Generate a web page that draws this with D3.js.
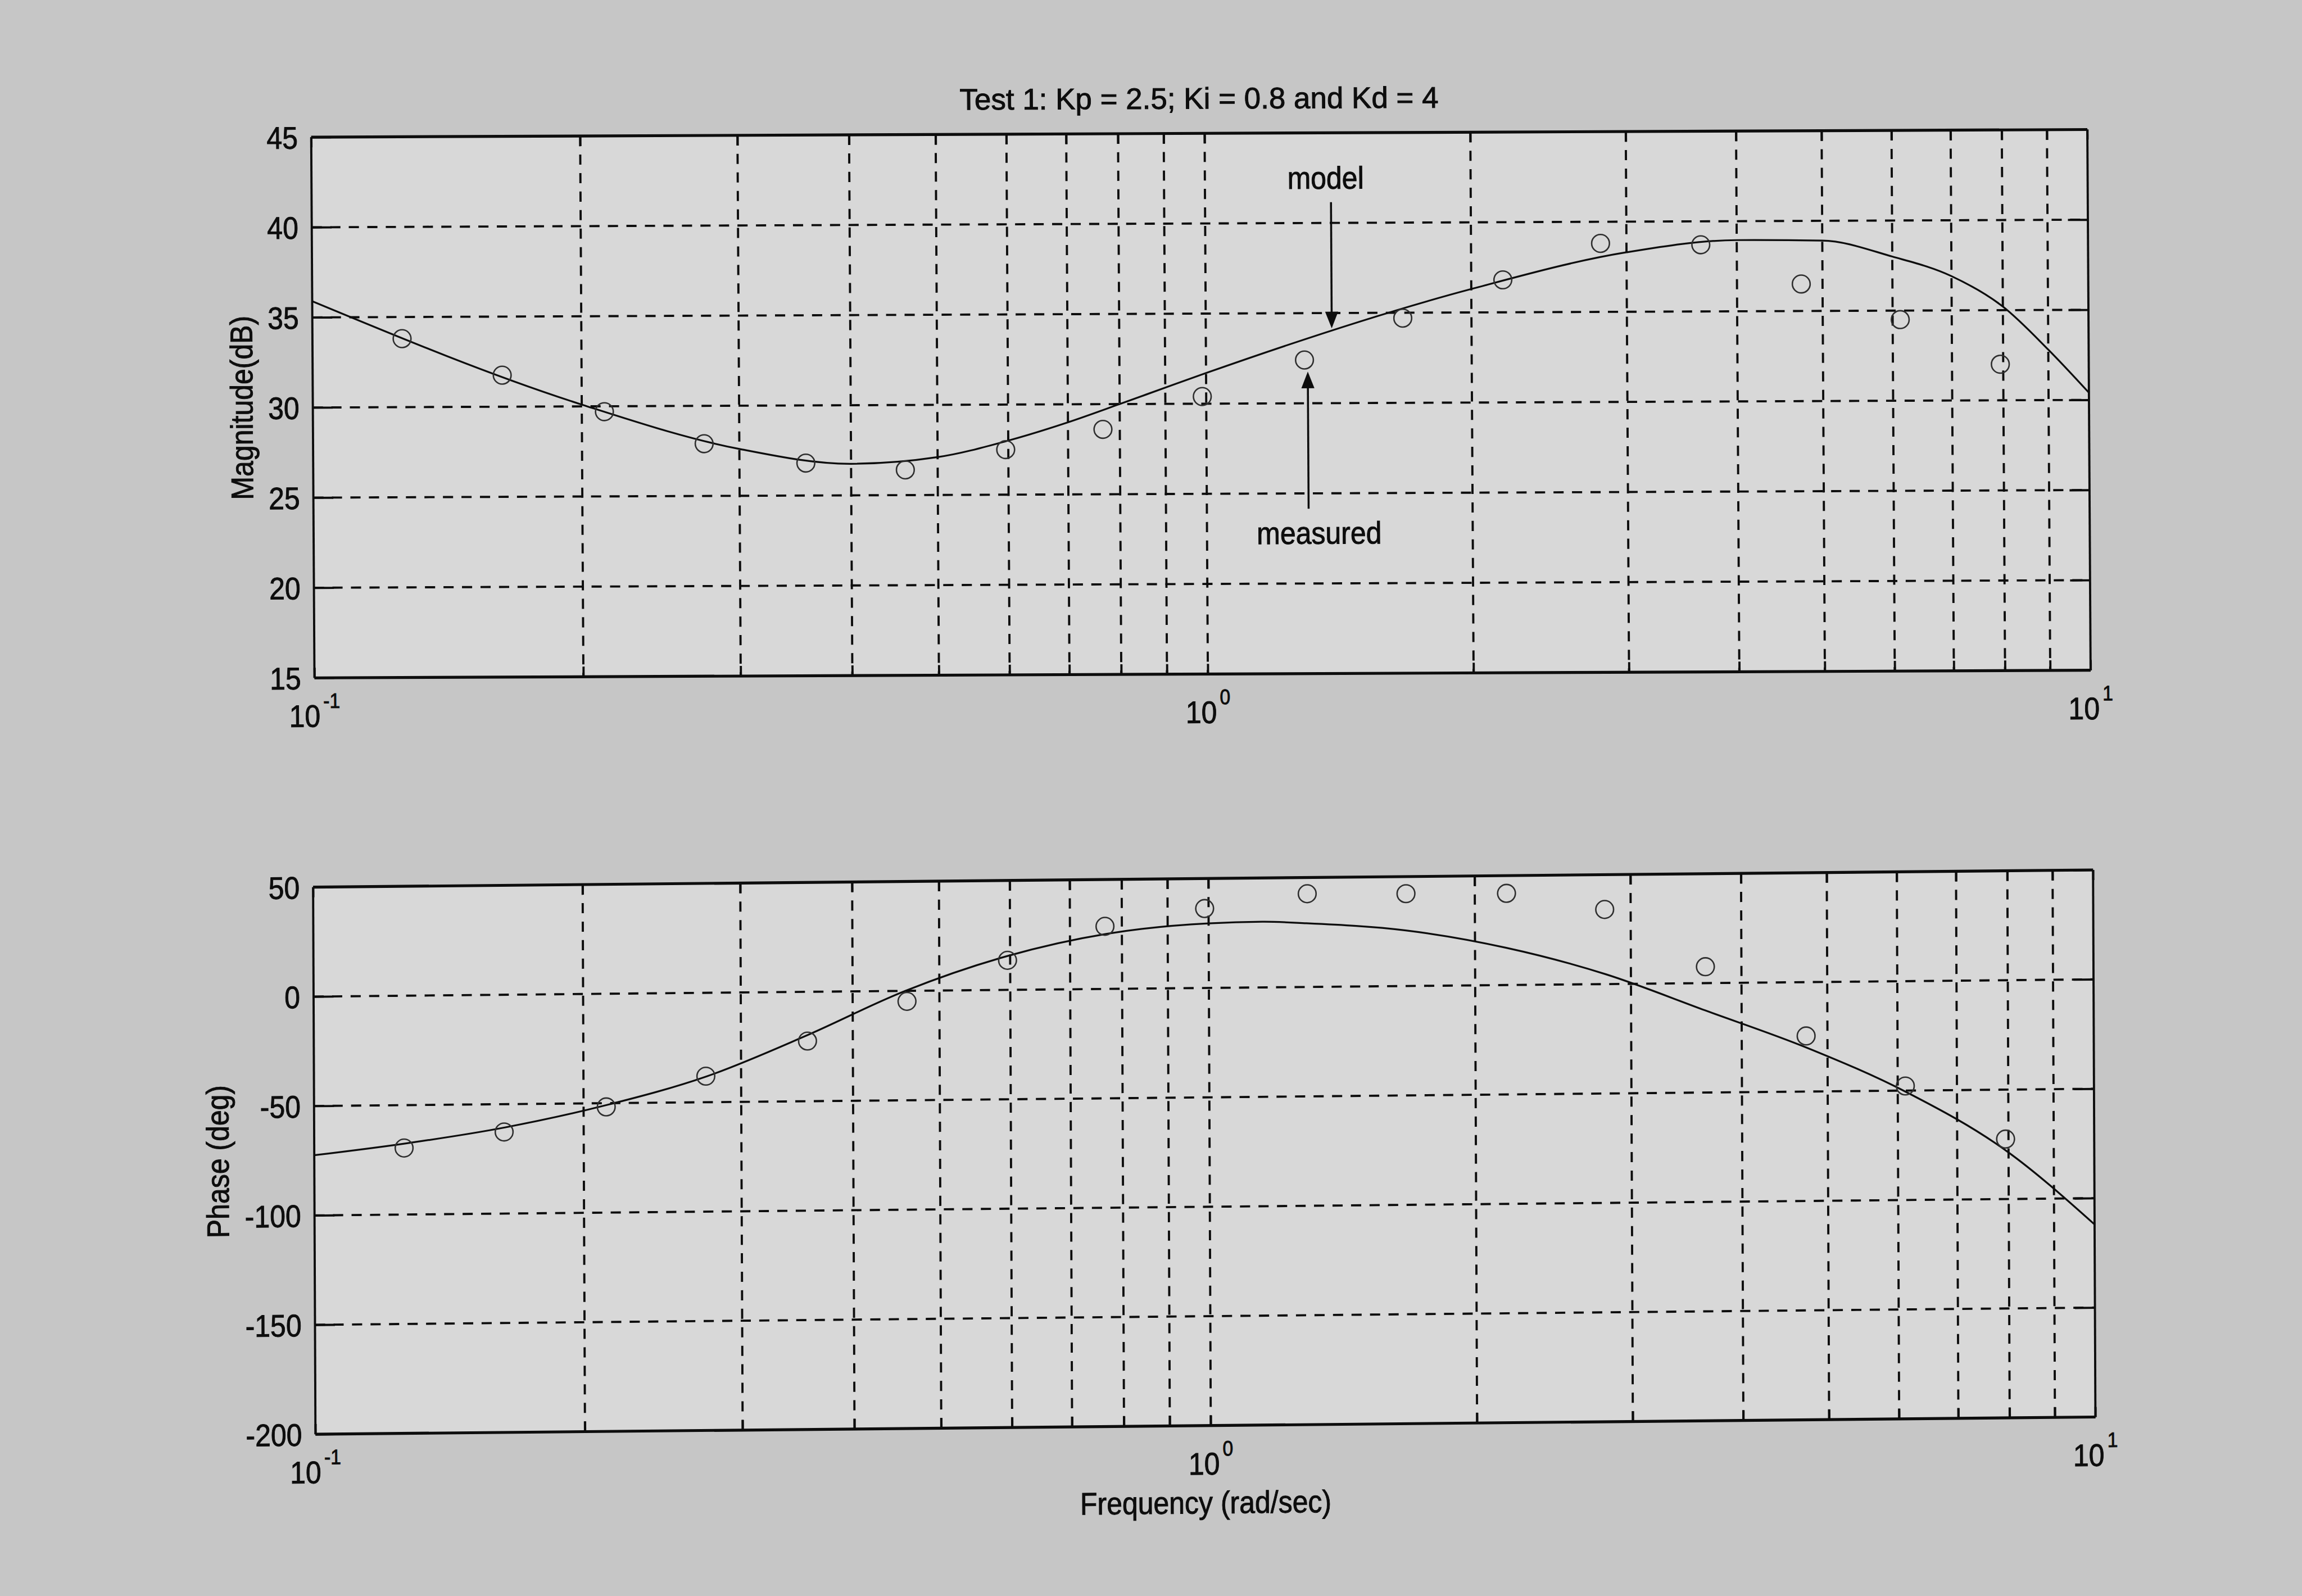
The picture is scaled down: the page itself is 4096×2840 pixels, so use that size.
<!DOCTYPE html>
<html>
<head>
<meta charset="utf-8">
<script src="https://cdn.jsdelivr.net/npm/d3@7"></script>
<style>
html,body{margin:0;padding:0;background:#c5c5c5;overflow:hidden}
</style>
</head>
<body>
<svg id="chart" width="4096" height="2840"></svg>
<script>
// ---------------- data ----------------
const titleText = "Test 1: Kp = 2.5; Ki = 0.8 and Kd = 4";
const magLabel = "Magnitude(dB)";
const phaseLabel = "Phase (deg)";
const freqLabel = "Frequency (rad/sec)";

const freqDomain = [0.1, 1, 10];
const decadeBase = ["10", "10", "10"];
const decadeExp = ["-1", "0", "1"];

const magTicks = [15, 20, 25, 30, 35, 40, 45];
const phaseTicks = [-200, -150, -100, -50, 0, 50];

// measured points (circles)
const measuredFreq = [0.126, 0.163, 0.212, 0.274, 0.356, 0.46, 0.596, 0.766, 0.99, 1.293, 1.672, 2.172, 2.804, 3.642, 4.73, 6.12, 7.94];
const measuredMag = [33.8, 31.75, 29.7, 27.9, 26.8, 26.4, 27.5, 28.6, 30.4, 32.4, 34.7, 36.8, 38.8, 38.7, 36.5, 34.5, 32.0];
const measuredPhase = [-69.6, -62.7, -51.7, -38.1, -22.5, -4.8, 13.5, 28.6, 36.3, 42.6, 42.2, 41.9, 34.1, 7.5, -24.6, -47.9, -72.6];

// model curve – magnitude
const modelMagFreq = [0.1, 0.2, 0.3, 0.4, 0.5, 0.6, 0.7, 0.8, 0.9, 1, 2, 3, 4, 5, 6, 7, 8, 9, 10];
const modelMag = [35.9, 30.1, 27.6, 26.75, 27.1, 28.0, 29.0, 30.0, 30.9, 31.7, 36.3, 38.3, 38.95, 38.9, 38.0, 36.9, 35.2, 32.8, 30.4];
// model curve – phase
const modelPhaseFreq = [0.1, 0.126, 0.163, 0.212, 0.275, 0.355, 0.458, 0.596, 0.77, 1.0, 1.15, 1.29, 1.67, 2.17, 2.81, 3.64, 4.74, 6.13, 7.95, 10];
const modelPhase = [-72.5, -67.6, -60.7, -50.9, -38.1, -20, 0, 15.5, 25.2, 29.5, 30.0, 29.1, 25.4, 17.0, 4.5, -12.5, -30.0, -50.6, -77.9, -112];

// annotations (in data units of the magnitude plot)
const annotationText = ["model", "measured"];
const annotationTextAt = [[1.37, 41.9], [1.34, 22.2]];
const arrowFrom = [[1.389, 41.15], [1.304, 24.15]];
const arrowTo = [[1.389, 34.15], [1.304, 31.76]];

// ---------------- drawing ----------------
const S = 4096 / 6343;
const FONT = "'Liberation Sans', Arial, Helvetica, sans-serif";
const FS = 86;
const SQUEEZE = 0.9;
const INK = "#0d0d0d";

const svg = d3.select("#chart");
svg.append("rect").attr("width", 4096).attr("height", 2840).attr("fill", "#c6c6c6");
const root = svg.append("g").attr("transform", `scale(${S})`);

function styleText(sel, size) {
  sel.attr("font-family", FONT).attr("font-size", size).attr("fill", INK)
    .attr("stroke", INK).attr("stroke-width", 1.5);
  return sel;
}
function squeeze(sel, k) {
  sel.each(function () {
    const len = this.getComputedTextLength();
    if (len > 0) d3.select(this).attr("textLength", len * k).attr("lengthAdjust", "spacingAndGlyphs");
  });
}

function makePanel(o) {
  const g = root.append("g")
    .attr("transform", `matrix(1,${o.skewY},${o.skewX},1,${o.x0},${o.y0})`);
  const x = d3.scaleLog().domain(freqDomain).range([0, o.W * o.mid, o.W]);
  const y = d3.scaleLinear().domain(o.yDomain).range([o.H, 0]);

  g.append("rect").attr("width", o.W).attr("height", o.H).attr("fill", "#d8d8d8");

  const allX = x.ticks();
  const innerX = allX.filter(v => v > 0.1 * 1.0001 && v < 10 * 0.9999);
  const innerY = o.yTicks.filter(v => v > o.yDomain[0] && v < o.yDomain[1]);

  const grid = g.append("g").attr("stroke", INK).attr("stroke-width", 6)
    .attr("stroke-dasharray", "28,23").attr("fill", "none");
  grid.selectAll("line.v").data(innerX).join("line").attr("class", "v")
    .attr("x1", d => x(d)).attr("x2", d => x(d)).attr("y1", 0).attr("y2", o.H);
  grid.selectAll("line.h").data(innerY).join("line").attr("class", "h")
    .attr("x1", 0).attr("x2", o.W).attr("y1", d => y(d)).attr("y2", d => y(d));

  const fmt = d => String(d);
  const axL = g.append("g").call(d3.axisLeft(y).tickValues(o.yTicks).tickSize(-55).tickPadding(37).tickFormat(fmt));
  const axR = g.append("g").attr("transform", `translate(${o.W},0)`)
    .call(d3.axisRight(y).tickValues(o.yTicks).tickSize(-55).tickFormat(""));
  const axB = g.append("g").attr("transform", `translate(0,${o.H})`)
    .call(d3.axisBottom(x).tickValues(allX).tickSize(-28).tickFormat(""));
  const axT = g.append("g").call(d3.axisTop(x).tickValues(allX).tickSize(-28).tickFormat(""));
  [axL, axR, axB, axT].forEach(a => {
    a.select(".domain").remove();
    a.selectAll(".tick line").attr("stroke", INK).attr("stroke-width", 6);
  });
  const yt = axL.selectAll(".tick text").attr("dy", "0.36em");
  styleText(yt, FS);
  squeeze(yt, SQUEEZE);

  // box
  g.append("line").attr("x1", 0).attr("x2", o.W).attr("y1", 0).attr("y2", 0).attr("stroke", INK).attr("stroke-width", 8);
  g.append("line").attr("x1", 0).attr("x2", o.W).attr("y1", o.H).attr("y2", o.H).attr("stroke", INK).attr("stroke-width", 8);
  g.append("line").attr("x1", 0).attr("x2", 0).attr("y1", 0).attr("y2", o.H).attr("stroke", INK).attr("stroke-width", 6);
  g.append("line").attr("x1", o.W).attr("x2", o.W).attr("y1", 0).attr("y2", o.H).attr("stroke", INK).attr("stroke-width", 6);

  // decade labels with superscripts
  const dl = g.append("g");
  const dt = dl.selectAll("text").data(freqDomain).join("text")
    .attr("x", d => x(d)).attr("y", o.H + 135)
    .attr("text-anchor", "middle");
  styleText(dt, FS);
  dt.each(function (d, i) {
    const t = d3.select(this);
    t.append("tspan").text(decadeBase[i]);
    t.append("tspan").attr("font-size", 58).attr("dx", 8).attr("dy", -52).text(decadeExp[i]);
  });
  dt.selectAll("tspan").each(function () {
    const len = this.getComputedTextLength();
    d3.select(this).attr("textLength", len * SQUEEZE).attr("lengthAdjust", "spacingAndGlyphs");
  });

  // y label
  const yl = g.append("text").attr("transform", `translate(${o.yLabelX},${o.H / 2}) rotate(-90)`)
    .attr("text-anchor", "middle").text(o.yLabel);
  styleText(yl, FS);
  squeeze(yl, SQUEEZE);

  // model line
  const line = d3.line().curve(d3.curveMonotoneX).x(d => x(d[0])).y(d => y(d[1]));
  g.append("path").datum(o.modelFreq.map((f, i) => [f, o.model[i]]))
    .attr("d", line).attr("fill", "none").attr("stroke", INK).attr("stroke-width", 5)
    .attr("stroke-linejoin", "round");

  // measured circles
  g.append("g").selectAll("circle").data(measuredFreq.map((f, i) => [f, o.measured[i]])).join("circle")
    .attr("cx", d => x(d[0])).attr("cy", d => y(d[1])).attr("r", 24.5)
    .attr("fill", "none").attr("stroke", "#2e2e2e").attr("stroke-width", 4);

  return { g, x, y };
}

const magPanel = makePanel({
  x0: 857.5, y0: 378, W: 4894, H: 1490, skewY: -21 / 4894, skewX: 9 / 1490, mid: 0.503,
  yDomain: [15, 45], yTicks: magTicks, yLabel: magLabel, yLabelX: -166,
  modelFreq: modelMagFreq, model: modelMag, measured: measuredMag
});

const phasePanel = makePanel({
  x0: 862.75, y0: 2444.75, W: 4904.5, H: 1507.5, skewY: -47.5 / 4904.5, skewX: 6.5 / 1507.5, mid: 0.503,
  yDomain: [-200, 50], yTicks: phaseTicks, yLabel: phaseLabel, yLabelX: -236,
  modelFreq: modelPhaseFreq, model: modelPhase, measured: measuredPhase
});

// title
styleText(magPanel.g.append("text").attr("x", 4894 / 2).attr("y", -68).attr("text-anchor", "middle")
  .text(titleText), 82);

// x label
const xl = phasePanel.g.append("text").attr("x", 4904.5 / 2).attr("y", 1507.5 + 242).attr("text-anchor", "middle")
  .text(freqLabel);
styleText(xl, FS);
squeeze(xl, SQUEEZE);

// annotations
const ann = magPanel.g.append("g");
const at = ann.selectAll("text").data(annotationText).join("text")
  .attr("x", (d, i) => magPanel.x(annotationTextAt[i][0]))
  .attr("y", (d, i) => magPanel.y(annotationTextAt[i][1]))
  .attr("text-anchor", "middle").text(d => d);
styleText(at, FS);
squeeze(at, SQUEEZE);

arrowFrom.forEach((a, i) => {
  const x1 = magPanel.x(a[0]), y1 = magPanel.y(a[1]);
  const x2 = magPanel.x(arrowTo[i][0]), y2 = magPanel.y(arrowTo[i][1]);
  const dir = Math.sign(y2 - y1);
  const headL = 46, headW = 18;
  ann.append("line").attr("x1", x1).attr("y1", y1).attr("x2", x2).attr("y2", y2 - dir * headL * 0.5)
    .attr("stroke", INK).attr("stroke-width", 5.5);
  ann.append("path")
    .attr("d", `M${x2},${y2} L${x2 - headW},${y2 - dir * headL} L${x2 + headW},${y2 - dir * headL} Z`)
    .attr("fill", INK);
});
</script>
</body>
</html>
